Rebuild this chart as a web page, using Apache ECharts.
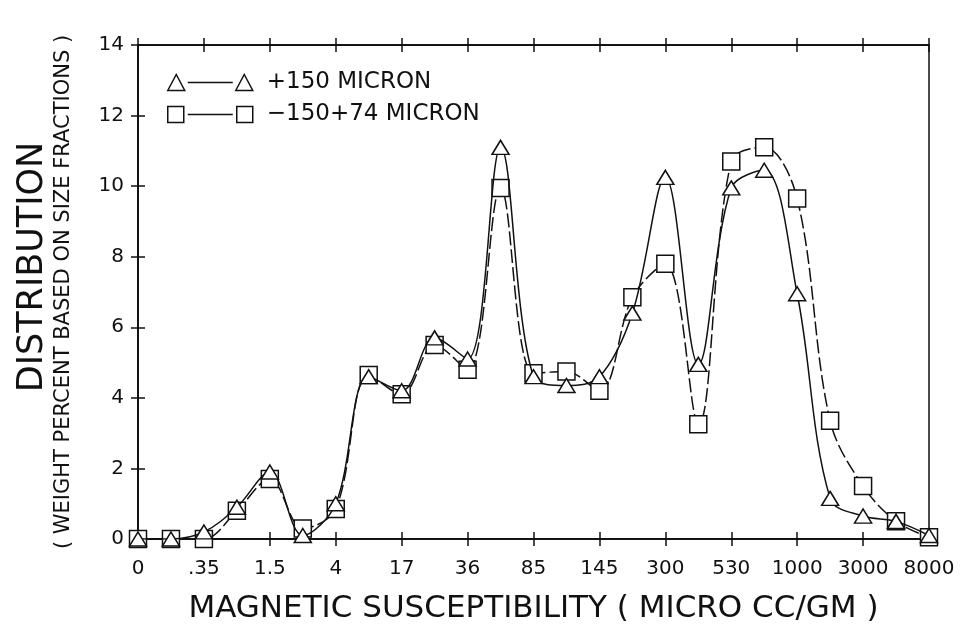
<!DOCTYPE html>
<html>
<head>
<meta charset="utf-8">
<script src="https://cdn.jsdelivr.net/npm/echarts@6/dist/echarts.min.js"></script>
<style>
html,body{margin:0;padding:0;background:#fff;}
#chart{width:968px;height:634px;}
</style>
</head>
<body>
<div id="chart"></div>
<script>
// Tick labels shown at every other position of the x scale (positions 0,2,4,...,24)
const xTickLabels = ['0', '.35', '1.5', '4', '17', '36', '85', '145', '300', '530', '1000', '3000', '8000'];
// Measurement positions along the x scale (half steps between labelled ticks)
const xPositions = [0, 1, 2, 3, 4, 5, 6, 7, 8, 9, 10, 11, 12, 13, 14, 15, 16, 17, 18, 19, 20, 21, 22, 23, 24];
// +150 micron fraction (triangles)
const plus150 = [0, 0, 0.2, 0.9, 1.9, 0.1, 1.0, 4.6, 4.2, 5.7, 5.1, 11.1, 4.6, 4.35, 4.6, 6.4, 10.25, 4.95, 9.95, 10.45, 6.95, 1.15, 0.65, 0.5, 0.1];
// -150+74 micron fraction (squares)
const minus150plus74 = [0, 0, 0, 0.8, 1.7, 0.3, 0.85, 4.65, 4.1, 5.5, 4.8, 9.95, 4.7, 4.75, 4.2, 6.85, 7.8, 3.25, 10.7, 11.1, 9.65, 3.35, 1.5, 0.5, 0.05];
const seriesNames = ['+150 MICRON', '\u2212150+74 MICRON'];
const yMin = 0, yMax = 14, yStep = 2;

const INK = '#111';
const FONT = 'DejaVu Sans';

const pair = (vals) => xPositions.map((x, i) => [x, vals[i]]);

function xAx(pos, inside, labels, extra) {
  return Object.assign({
    type: 'value', min: 0, max: 24, interval: 2, position: pos,
    axisLine: { show: true, onZero: false, lineStyle: { color: INK, width: 1.5 } },
    axisTick: { show: true, inside: inside, length: 7, lineStyle: { color: INK, width: 1.5 } },
    axisLabel: labels ? {
      show: true, fontSize: 20, color: INK, fontFamily: FONT, margin: 20,
      formatter: (v) => xTickLabels[Math.round(v / 2)]
    } : { show: false },
    splitLine: { show: false }
  }, extra || {});
}
function yAx(pos, inside, labels, extra) {
  return Object.assign({
    type: 'value', min: yMin, max: yMax, interval: yStep, position: pos,
    axisLine: { show: true, onZero: false, lineStyle: { color: INK, width: 1.5 } },
    axisTick: { show: true, inside: inside, length: 7, lineStyle: { color: INK, width: 1.5 } },
    axisLabel: labels ? { show: true, fontSize: 20, color: INK, fontFamily: FONT, margin: 14 } : { show: false },
    splitLine: { show: false }
  }, extra || {});
}

const triPath = 'path://M0,16 L8.5,0 L17,16 Z M20,8 L65,8 M68,16 L76.5,0 L85,16 Z';
const sqPath = 'path://M0,0 L16,0 L16,16 L0,16 Z M20,8 L65,8 M69,0 L85,0 L85,16 L69,16 Z';

const chart = echarts.init(document.getElementById('chart'), null, { renderer: 'canvas' });
chart.setOption({
  backgroundColor: '#fff',
  animation: false,
  grid: { left: 138, right: 39, top: 45, bottom: 95, show: true, borderColor: INK, borderWidth: 1.5, backgroundColor: 'transparent' },
  legend: {
    orient: 'vertical', left: 162, top: 66, itemWidth: 85, itemHeight: 16, itemGap: 9,
    selectedMode: false,
    textStyle: { fontSize: 23, color: INK, fontFamily: FONT, padding: [0, 0, 0, 9] },
    data: [
      { name: seriesNames[0], icon: triPath, itemStyle: { color: '#fff', borderColor: INK, borderWidth: 1.5 } },
      { name: seriesNames[1], icon: sqPath, itemStyle: { color: '#fff', borderColor: INK, borderWidth: 1.5 } }
    ]
  },
  xAxis: [
    xAx('bottom', false, true, {
      name: 'MAGNETIC SUSCEPTIBILITY ( MICRO CC/GM )', nameLocation: 'middle', nameGap: 54,
      nameTextStyle: { fontSize: 31, color: INK, fontFamily: FONT }
    }),
    xAx('bottom', true, false),
    xAx('top', false, false),
    xAx('top', true, false)
  ],
  yAxis: [
    yAx('left', false, true, {
      name: '( WEIGHT PERCENT BASED ON SIZE FRACTIONS )', nameLocation: 'middle', nameGap: 64, nameRotate: 90,
      nameTextStyle: { fontSize: 21, color: INK, fontFamily: FONT }
    }),
    yAx('left', true, false, {
      name: 'DISTRIBUTION', nameLocation: 'middle', nameGap: 88, nameRotate: 90,
      nameTextStyle: { fontSize: 35, color: INK, fontFamily: FONT, padding: [0, 0, 0, 50] }
    })
  ],
  series: [
    {
      name: seriesNames[0], type: 'line', xAxisIndex: 0, yAxisIndex: 0, z: 4,
      data: pair(plus150), smooth: 0.35,
      symbol: 'triangle', symbolSize: [17, 14], showAllSymbol: true,
      itemStyle: { color: '#fff', borderColor: INK, borderWidth: 1.5 },
      lineStyle: { color: INK, width: 1.5, type: 'solid' }
    },
    {
      name: seriesNames[1], type: 'line', xAxisIndex: 0, yAxisIndex: 0, z: 3,
      data: pair(minus150plus74), smooth: 0.35,
      symbol: 'rect', symbolSize: 17, showAllSymbol: true,
      itemStyle: { color: '#fff', borderColor: INK, borderWidth: 1.5 },
      lineStyle: { color: INK, width: 1.5, type: [14, 4] }
    }
  ]
});
</script>
</body>
</html>
